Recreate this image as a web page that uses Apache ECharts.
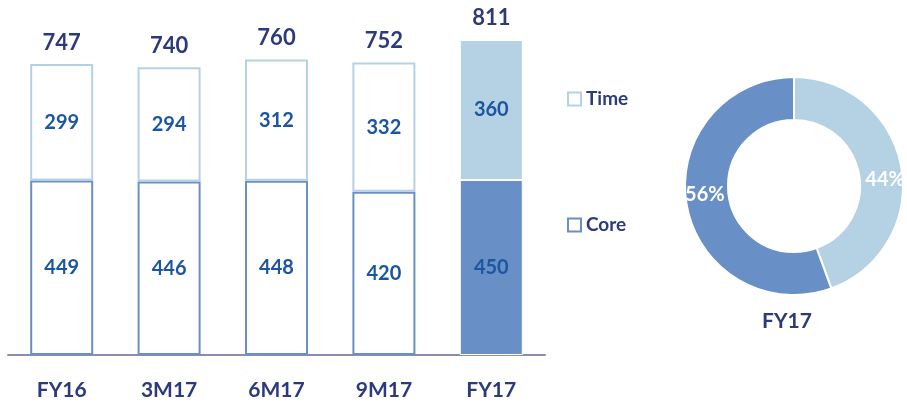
<!DOCTYPE html>
<html>
<head>
<meta charset="utf-8">
<script src="https://cdn.jsdelivr.net/npm/echarts@6/dist/echarts.min.js"></script>
<style>
  html, body { margin: 0; padding: 0; background: #ffffff; }
  #chart { width: 907px; height: 403px; }
</style>
</head>
<body>
<div id="chart"></div>
<script>
// Revenue split by period: Core vs Time
const categories = ['FY16', '3M17', '6M17', '9M17', 'FY17'];
const coreValues = [449, 446, 448, 420, 450];
const timeValues = [299, 294, 312, 332, 360];
const totalValues = [747, 740, 760, 752, 811];
const donutTitle = 'FY17';

const FONT = 'Lato, "Open Sans", sans-serif';
const NAVY = '#2c3a7c';
const LABEL_BLUE = '#1c56a0';
const CORE_COLOR = '#6890c6';
const TIME_COLOR = '#b4d2e3';
const lastIdx = categories.length - 1;

// Earlier periods are drawn as outlined boxes, the latest period is filled
function styled(values, color) {
  return values.map((v, i) => ({
    value: v,
    itemStyle: i === lastIdx
      ? { color: color, borderColor: '#ffffff', borderWidth: 1 }
      : { color: '#ffffff', borderColor: color, borderWidth: 2 }
  }));
}

const segLabel = {
  show: true,
  position: 'inside',
  fontFamily: FONT,
  fontWeight: 'bold',
  fontSize: 20,
  color: LABEL_BLUE
};

const chart = echarts.init(document.getElementById('chart'));
chart.setOption({
  animation: false,
  backgroundColor: '#ffffff',
  grid: { left: 8, right: 362, top: 5, bottom: 48, containLabel: false },
  xAxis: {
    type: 'category',
    data: categories,
    axisLine: { show: true, lineStyle: { color: '#8c8cae', width: 2 } },
    axisTick: { show: false },
    axisLabel: {
      margin: 25,
      fontFamily: FONT,
      fontWeight: 'bold',
      fontSize: 21,
      color: NAVY
    }
  },
  yAxis: { type: 'value', min: 0, max: 900, show: false },
  legend: {
    orient: 'vertical',
    left: 562,
    top: 83,
    itemWidth: 13,
    itemHeight: 13,
    itemGap: 104,
    selectedMode: false,
    textStyle: { fontFamily: FONT, fontWeight: 'bold', fontSize: 19, color: NAVY, lineHeight: 22 },
    data: [
      { name: 'Time', icon: 'rect', itemStyle: { color: '#ffffff', borderColor: TIME_COLOR, borderWidth: 2 } },
      { name: 'Core', icon: 'rect', itemStyle: { color: '#ffffff', borderColor: CORE_COLOR, borderWidth: 2 } }
    ]
  },
  series: [
    {
      name: 'Core',
      type: 'bar',
      stack: 'total',
      barWidth: 63,
      data: styled(coreValues, CORE_COLOR),
      label: segLabel
    },
    {
      name: 'Time',
      type: 'bar',
      stack: 'total',
      barWidth: 63,
      data: styled(timeValues, TIME_COLOR),
      label: segLabel
    },
    {
      // Totals printed above each stack
      name: 'Total',
      type: 'line',
      data: totalValues,
      symbol: 'circle',
      symbolSize: 1,
      showSymbol: true,
      itemStyle: { color: 'rgba(255,255,255,0)' },
      lineStyle: { width: 0, opacity: 0 },
      silent: true,
      z: 5,
      label: {
        show: true,
        position: 'top',
        distance: 10,
        fontFamily: FONT,
        fontWeight: 'bold',
        fontSize: 22,
        color: NAVY
      }
    },
    {
      name: 'Share',
      type: 'pie',
      center: [794, 186],
      radius: [66, 109],
      startAngle: 90,
      clockwise: true,
      silent: true,
      itemStyle: { borderColor: '#ffffff', borderWidth: 2 },
      label: {
        show: true,
        position: 'inside',
        fontFamily: FONT,
        fontWeight: 'bold',
        fontSize: 20,
        color: '#ffffff',
        formatter: p => Math.round(p.percent) + '%'
      },
      labelLine: { show: false },
      data: [
        { name: 'Time', value: timeValues[lastIdx], itemStyle: { color: TIME_COLOR }, label: { offset: [2, 9] } },
        { name: 'Core', value: coreValues[lastIdx], itemStyle: { color: CORE_COLOR }, label: { offset: [0, -7] } }
      ]
    }
  ],
  graphic: [
    {
      type: 'text',
      left: 762,
      top: 311,
      style: {
        text: donutTitle,
        fontFamily: FONT,
        fontWeight: 'bold',
        fontSize: 21,
        fill: NAVY
      }
    }
  ]
});
</script>
</body>
</html>
